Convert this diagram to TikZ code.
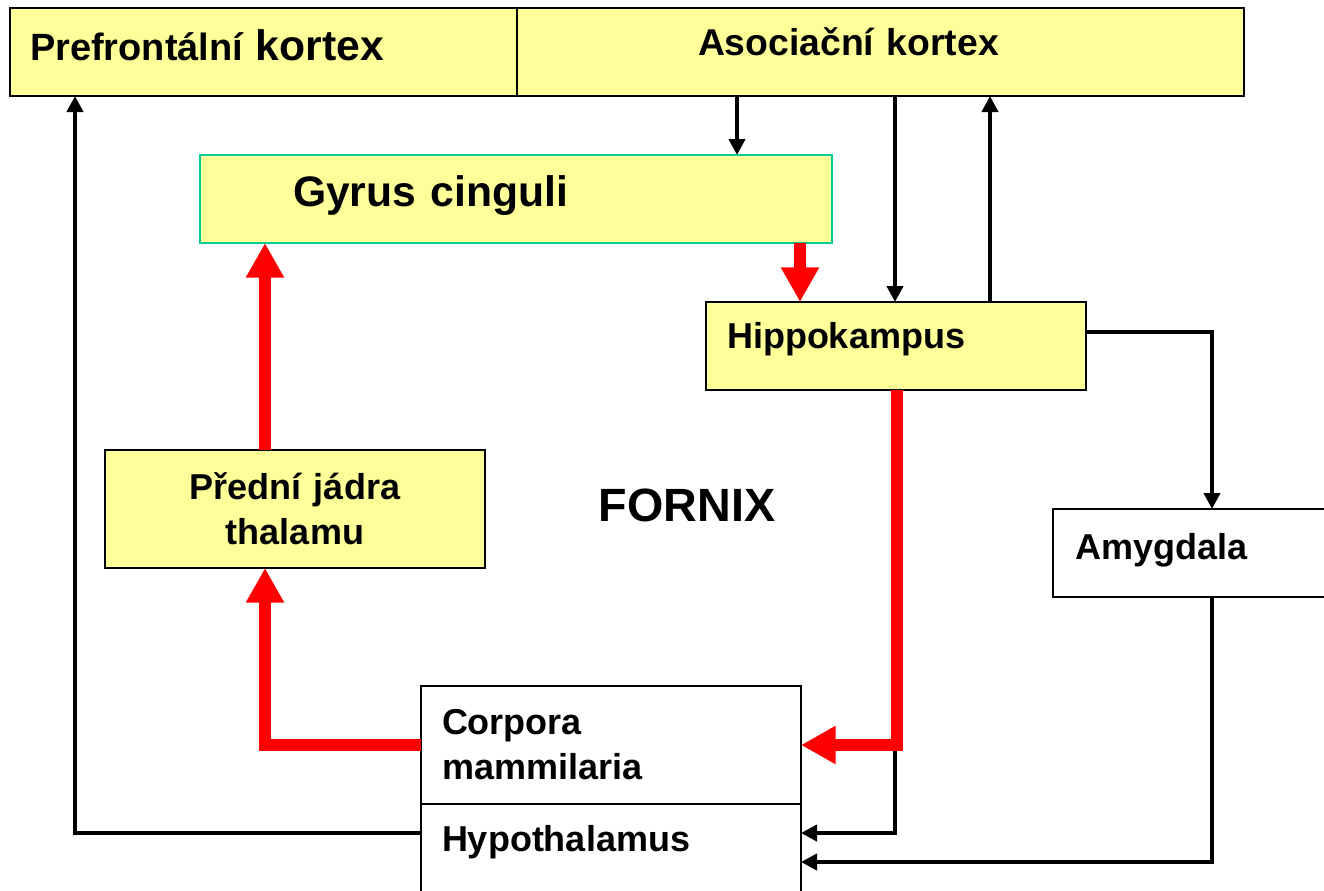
\documentclass[tikz,border=0pt]{standalone}
\usepackage{fontspec}
\setmainfont{Liberation Sans}
\usetikzlibrary{arrows.meta}
\definecolor{boxyellow}{HTML}{FFFF99}
\definecolor{cingborder}{HTML}{00CC99}
\tikzset{
	box/.style={draw, line width=2.2pt, inner ysep=0pt, outer sep=0pt, minimum height=66pt},
	ybox/.style={box, fill=boxyellow},
	wbox/.style={box, fill=white},
	txt/.style={font=\fontsize{27pt}{33.75pt}\selectfont\bfseries},
	blk/.style={line width=3pt, line join=miter, -{Triangle[length=12pt,width=12pt]}},
	redarr/.style={red, line width=9pt, line join=miter, -{Triangle[length=26pt,width=27pt]}},
}
\begin{document}
\begin{tikzpicture}[x=0.75pt, y=-0.75pt]
	\useasboundingbox (0,0) rectangle (1324,890);
	% boxes
	\node[ybox, minimum width=380.25pt, text width=350.25pt, inner xsep=15pt, align=left,
		text height=21pt, text depth=9pt, font=\fontsize{28.5pt}{34pt}\selectfont\bfseries]
		(prefr) at (263.5,52) {Prefrontální {\fontsize{32pt}{38pt}\selectfont kortex}};
	\node[ybox, minimum width=545.25pt, text width=273.75pt, inner xsep=135.75pt, align=left,
		text height=20pt, text depth=15pt, font=\fontsize{28pt}{34pt}\selectfont\bfseries]
		(asoc) at (880.5,52) {Asociační kortex};
	\node[ybox, draw=cingborder, minimum width=474pt, text width=334.5pt, inner xsep=69.75pt, align=left,
		text height=23pt, text depth=12pt, font=\fontsize{32pt}{38pt}\selectfont\bfseries]
		(gyrus) at (516,199) {Gyrus cinguli};
	\node[ybox, txt, line width=1.6pt, minimum width=285pt, text width=253.5pt, inner xsep=15.75pt, align=left,
		text height=20pt, text depth=16.5pt] (hippo) at (896,346) {Hippokampus};
	\node[ybox, txt, minimum width=285pt, minimum height=88.5pt, text width=253.5pt, inner xsep=15.75pt,
		align=center] (thal) at (295,509) {Přední jádra\\thalamu};
	\node[wbox, txt, minimum width=215.25pt, text width=182.25pt, inner xsep=16.5pt, align=left,
		text height=20pt, text depth=10.5pt] (amyg) at (1196.5,553) {Amygdala};
	\node[wbox, txt, minimum width=285pt, minimum height=88.5pt, text width=253.5pt, inner xsep=15.75pt,
		align=left] (corp) at (611,745) {Corpora\\mammilaria};
	\node[wbox, txt, minimum width=285pt, minimum height=72pt, text width=253.5pt, inner xsep=15.75pt,
		align=left, text height=20pt, text depth=21pt] (hypo) at (611,852) {Hypothalamus};
	\node[font=\fontsize{35pt}{42pt}\selectfont\bfseries] (fornix) at (687,505) {FORNIX};
	% columns and rows of the connectors
	\coordinate (colGyr) at (737,0);
	\coordinate (colHipDn) at (895,0);
	\coordinate (colHipUp) at (990,0);
	\coordinate (colRed) at (800,0);
	\coordinate (colFornix) at (897,0);
	\coordinate (colAmy) at (1212,0);
	\coordinate (colThal) at (265,0);
	\coordinate (colPref) at (75,0);
	\coordinate (rowHip) at (0,332);
	\coordinate (rowHypo) at (0,833);
	\coordinate (rowLow) at (0,862);
	% connectors
	\draw[blk] (asoc.south -| colGyr) -- (gyrus.north -| colGyr);
	\draw[blk] (asoc.south -| colHipDn) -- (hippo.north -| colHipDn);
	\draw[blk] (hippo.north -| colHipUp) -- (asoc.south -| colHipUp);
	\draw[blk] (hippo.east |- rowHip) -| (amyg.north -| colAmy);
	\draw[blk] (amyg.south -| colAmy) |- (hypo.east |- rowLow);
	\draw[blk] (corp.east -| colHipDn) |- (hypo.east |- rowHypo);
	\draw[blk] (hypo.west |- rowHypo) -| (prefr.south -| colPref);
	\draw[redarr] (gyrus.south -| colRed) -- (hippo.north -| colRed);
	\draw[redarr] (hippo.south -| colFornix) |- (corp.east);
	\draw[redarr] (corp.west) -| (thal.south -| colThal);
	\draw[redarr] (thal.north -| colThal) -- (gyrus.south -| colThal);
\end{tikzpicture}
\end{document}
